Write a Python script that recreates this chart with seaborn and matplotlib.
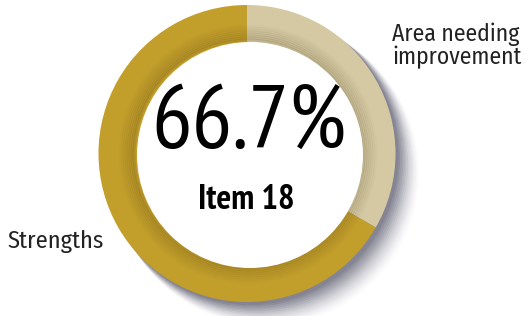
import matplotlib.pyplot as plt
import seaborn as sns
import numpy as np

labels = ["Area needing\nimprovement", "Strengths"]
shares = [33.3, 66.7]
colors = ["#D4C9A3", "#C29E2B"]
big_label = "66.7%"
item_label = "Item 18"

W, H = 526, 316
cx, cy, r = 247, H - 153.5, 148.5
hole_c, hole_r = (250, H - 155), 113

sns.set_theme(style="white")
plt.rcParams["font.family"] = ["PT Sans Narrow", "Fira Sans Condensed", "DejaVu Sans"]
label_font = ["Fira Sans Condensed", "PT Sans Narrow", "DejaVu Sans"]

fig = plt.figure(figsize=(W / 100, H / 100), dpi=100)
ax = fig.add_axes([0, 0, 1, 1])

# soft drop shadow at lower right
for i, a in enumerate(np.linspace(0.10, 0.01, 14)):
    off = 3 + i * 1.3
    ax.add_patch(plt.Circle((cx + off, cy - off), r + i * 0.3, color="#2a2a44", alpha=a, lw=0, zorder=1))

ax.pie(shares, colors=colors, startangle=90, counterclock=False, radius=r, center=(cx, cy),
       wedgeprops=dict(linewidth=0, zorder=2), frame=True)
ax.set_xlim(0, W)
ax.set_ylim(0, H)
ax.set_aspect("equal")
ax.axis("off")

# darker shading on the ring around the hole
for i, a in enumerate(np.linspace(0.14, 0.0, 9)):
    ax.add_patch(plt.Circle((hole_c[0] - 2, hole_c[1] + 1), hole_r + 1 + i * 2, fill=False, lw=2.2,
                            color="#4a3a10", alpha=a, zorder=3))
ax.add_patch(plt.Circle(hole_c, hole_r, color="white", lw=0, zorder=4))

ax.text(hole_c[0] - 1, H - 125, big_label, ha="center", va="center", fontsize=65, color="black", zorder=5)
ax.text(hole_c[0] - 4, H - 200, item_label, ha="center", va="center", fontsize=25, fontweight="bold",
        color="black", zorder=5)
ax.text(392, H - 46, labels[0], ha="left", va="center", fontsize=17, color="#222222",
        linespacing=1.0, family=label_font, zorder=5)
ax.text(7, H - 241, labels[1], ha="left", va="center", fontsize=17.5, color="#222222",
        family=label_font, zorder=5)

fig.savefig("out.png", dpi=100)
